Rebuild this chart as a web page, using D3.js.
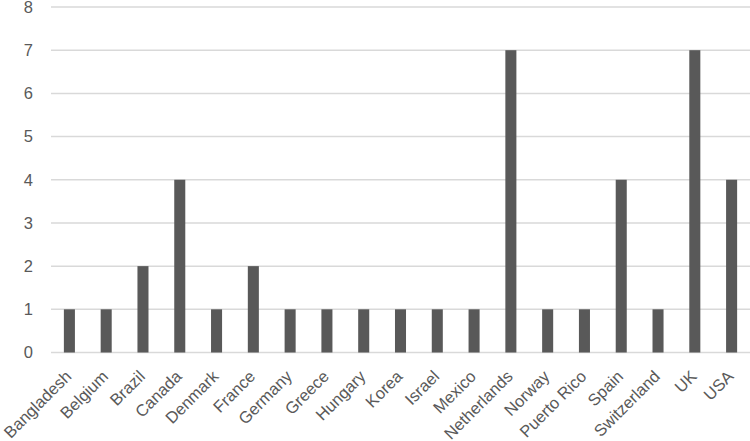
<!DOCTYPE html>
<html>
<head>
<meta charset="utf-8">
<script src="https://cdn.jsdelivr.net/npm/d3@7"></script>
<style>
  html, body { margin: 0; padding: 0; background: #fff; }
  svg text { font-family: "Liberation Sans", Arial, sans-serif; fill: #595959; }
</style>
</head>
<body>
<div id="chart"></div>
<script>
const countries = ["Bangladesh", "Belgium", "Brazil", "Canada", "Denmark", "France", "Germany",
  "Greece", "Hungary", "Korea", "Israel", "Mexico", "Netherlands", "Norway", "Puerto Rico",
  "Spain", "Switzerland", "UK", "USA"];
const counts = [1, 1, 2, 4, 1, 2, 1, 1, 1, 1, 1, 1, 7, 1, 1, 4, 1, 7, 4];
const yTicks = [0, 1, 2, 3, 4, 5, 6, 7, 8];

const width = 750, height = 441;
const margin = { top: 7, right: 0, bottom: 88.5, left: 51 };

const svg = d3.select("#chart").append("svg")
  .attr("width", width)
  .attr("height", height);

const x = d3.scaleBand()
  .domain(countries)
  .range([margin.left, width - margin.right])
  .paddingInner(0.7)
  .paddingOuter(0.35);

const y = d3.scaleLinear()
  .domain([0, 8])
  .range([height - margin.bottom, margin.top]);

// gridlines
svg.append("g")
  .selectAll("line")
  .data(yTicks)
  .join("line")
  .attr("x1", margin.left)
  .attr("x2", width - margin.right)
  .attr("y1", d => y(d))
  .attr("y2", d => y(d))
  .attr("stroke", "#d9d9d9")
  .attr("stroke-width", 1.5);

// y labels
svg.append("g")
  .selectAll("text")
  .data(yTicks)
  .join("text")
  .attr("x", 33)
  .attr("y", d => y(d))
  .attr("dy", "0.35em")
  .attr("text-anchor", "end")
  .attr("font-size", "16.5px")
  .text(d => d);

// bars
svg.append("g")
  .selectAll("rect")
  .data(countries)
  .join("rect")
  .attr("x", d => x(d))
  .attr("width", x.bandwidth())
  .attr("y", (d, i) => y(counts[i]))
  .attr("height", (d, i) => y(0) - y(counts[i]))
  .attr("fill", "#595959");

// x labels, rotated
svg.append("g")
  .selectAll("text")
  .data(countries)
  .join("text")
  .attr("transform", d => `translate(${x(d) + x.bandwidth() / 2 + 3},${y(0) + 25}) rotate(-45)`)
  .attr("text-anchor", "end")
  .attr("font-size", "16.5px")
  .text(d => d);
</script>
</body>
</html>
